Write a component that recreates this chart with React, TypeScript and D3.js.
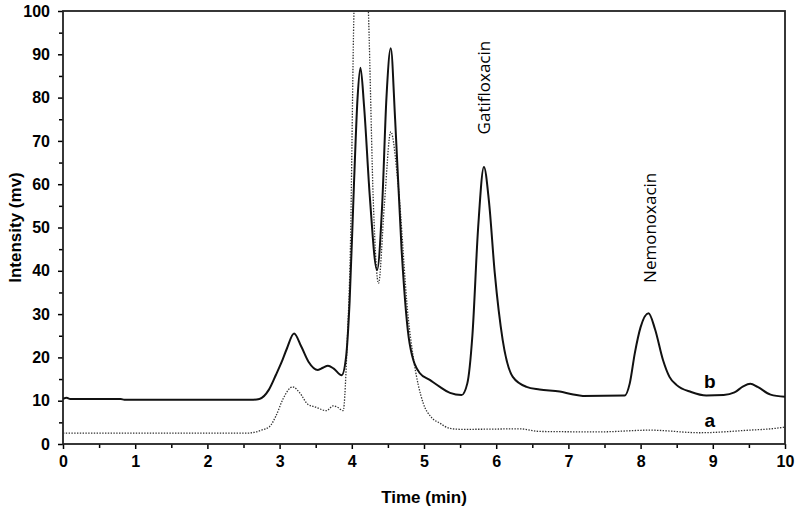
import { useEffect, useRef } from 'react'
import * as d3 from 'd3'

// chromatogram b (solid) — sample with both analytes
const timeB = [0, 0.05, 0.1, 0.8, 0.85, 2.6, 2.72, 2.85, 2.95, 3.02, 3.1, 3.2, 3.3, 3.4, 3.53, 3.6, 3.67, 3.75, 3.86, 3.92, 3.97, 4.03, 4.08, 4.12, 4.17, 4.25, 4.35, 4.42, 4.48, 4.54, 4.6, 4.69, 4.8, 4.94, 5.08, 5.22, 5.36, 5.52, 5.6, 5.67, 5.75, 5.83, 5.9, 5.98, 6.09, 6.23, 6.42, 6.6, 6.88, 7.05, 7.2, 7.78, 7.85, 7.92, 8.0, 8.11, 8.2, 8.31, 8.4, 8.5, 8.7, 8.91, 9.15, 9.3, 9.42, 9.52, 9.62, 9.8, 10]
const intensityB = [10.4, 10.7, 10.4, 10.4, 10.2, 10.2, 10.4, 12.5, 16, 18.6, 22, 25.5, 22.5, 19, 17.1, 17.6, 18.1, 17.4, 15.9, 20, 33, 60, 80, 86.9, 78, 57, 40.2, 55, 80, 91.4, 75, 44.8, 23.3, 16.4, 14.8, 13.2, 11.8, 11.3, 14, 25, 50, 64, 56, 39.5, 24, 15.5, 13.2, 12.6, 12.1, 11.5, 11.1, 11.2, 14, 21, 27, 30.2, 26.5, 19.4, 15.5, 13.6, 12, 11.2, 11.3, 11.9, 13.3, 13.9, 13.2, 11.4, 10.9]

// chromatogram a (dotted) — blank
const timeA = [0, 2.55, 2.65, 2.75, 2.86, 2.95, 3.05, 3.18, 3.28, 3.39, 3.5, 3.65, 3.74, 3.8, 3.88, 3.94, 3.98, 4.03, 4.13, 4.23, 4.3, 4.37, 4.45, 4.54, 4.64, 4.78, 4.85, 4.99, 5.1, 5.22, 5.36, 5.5, 5.67, 6.33, 6.6, 7.43, 8.13, 8.82, 9.51, 9.8, 10]
const intensityA = [2.5, 2.5, 2.7, 3.2, 4.0, 6.5, 10.5, 13.2, 11.8, 9.2, 8.5, 7.7, 8.8, 8.5, 7.7, 25, 45, 100, 135, 100, 55, 37.1, 55, 72.1, 60.2, 29.4, 20.2, 9.4, 6.2, 4.8, 3.6, 3.4, 3.4, 3.5, 2.9, 2.8, 3.2, 2.6, 3.2, 3.5, 3.9]

const xTicks = [0, 1, 2, 3, 4, 5, 6, 7, 8, 9, 10]
const yTicks = [0, 10, 20, 30, 40, 50, 60, 70, 80, 90, 100]

const peakLabels = [
  { name: 'Gatifloxacin', t: 5.83, v: 71.5 },
  { name: 'Nemonoxacin', t: 8.13, v: 37.2 },
]
// baseline positions of the trace letters
const traceLabels = [
  { name: 'b', t: 8.96, v: 12.9 },
  { name: 'a', t: 8.96, v: 3.9 },
]

export default function App() {
  const ref = useRef<SVGSVGElement>(null)

  useEffect(() => {
    const W = 799, H = 510
    const M = { top: 11, right: 14, bottom: 66, left: 63 }
    const iw = W - M.left - M.right
    const ih = H - M.top - M.bottom
    const svg = d3.select(ref.current)
    svg.selectAll('*').remove()
    svg.attr('width', W).attr('height', H)

    const x = d3.scaleLinear().domain([0, 10]).range([0, iw])
    const y = d3.scaleLinear().domain([0, 100]).range([ih, 0])
    const g = svg.append('g').attr('transform', `translate(${M.left},${M.top})`)

    svg.append('clipPath').attr('id', 'plot-clip')
      .append('rect').attr('width', iw).attr('height', ih)

    const font = "'Liberation Sans', Arial, sans-serif"

    // minor ticks first, then majors
    g.append('g').attr('transform', `translate(0,${ih})`)
      .call(d3.axisBottom(x).tickValues(d3.range(0.5, 10, 1)).tickSize(4).tickFormat(() => ''))
      .call(s => s.select('.domain').remove())
      .call(s => s.selectAll('line').attr('stroke', '#000').attr('stroke-width', 1.5))
    g.append('g').call(d3.axisLeft(y).tickValues(d3.range(5, 100, 10)).tickSize(4).tickFormat(() => ''))
      .call(s => s.select('.domain').remove())
      .call(s => s.selectAll('line').attr('stroke', '#000').attr('stroke-width', 1.5))

    g.append('g').attr('transform', `translate(0,${ih})`)
      .call(d3.axisBottom(x).tickValues(xTicks).tickSize(5).tickPadding(7).tickFormat(d3.format('d')))
      .call(s => s.select('.domain').remove())
      .call(s => s.selectAll('line').attr('stroke', '#000').attr('stroke-width', 1.5))
      .call(s => s.selectAll('text').attr('fill', '#000').attr('font-size', 16).attr('font-weight', 700).attr('font-family', font))
    g.append('g')
      .call(d3.axisLeft(y).tickValues(yTicks).tickSize(5).tickPadding(8).tickFormat(d3.format('d')))
      .call(s => s.select('.domain').remove())
      .call(s => s.selectAll('line').attr('stroke', '#000').attr('stroke-width', 1.5))
      .call(s => s.selectAll('text').attr('fill', '#000').attr('font-size', 16).attr('font-weight', 700).attr('font-family', font))

    // frame
    g.append('rect').attr('width', iw).attr('height', ih)
      .attr('fill', 'none').attr('stroke', '#222').attr('stroke-width', 1.8)

    const line = d3.line<[number, number]>()
      .x(d => x(d[0])).y(d => y(d[1]))
      .curve(d3.curveMonotoneX)

    const plot = g.append('g').attr('clip-path', 'url(#plot-clip)')
    plot.append('path')
      .datum(timeA.map((t, i) => [t, intensityA[i]] as [number, number]))
      .attr('fill', 'none').attr('stroke', '#333').attr('stroke-width', 1.3)
      .attr('stroke-dasharray', '1.4,1.4').attr('d', line)
    plot.append('path')
      .datum(timeB.map((t, i) => [t, intensityB[i]] as [number, number]))
      .attr('fill', 'none').attr('stroke', '#111').attr('stroke-width', 2).attr('d', line)

    peakLabels.forEach(p => {
      g.append('text')
        .attr('transform', `translate(${x(p.t)},${y(p.v)}) rotate(-90)`)
        .attr('dy', '0.35em')
        .attr('font-family', "'Open Sans', sans-serif").attr('font-size', 17)
        .attr('fill', '#000').text(p.name)
    })
    traceLabels.forEach(p => {
      g.append('text')
        .attr('x', x(p.t)).attr('y', y(p.v))
        .attr('text-anchor', 'middle')
        .attr('font-family', font).attr('font-weight', 700).attr('font-size', 19)
        .attr('fill', '#000').text(p.name)
    })

    svg.append('text')
      .attr('x', M.left + iw / 2).attr('y', 503)
      .attr('text-anchor', 'middle')
      .attr('font-family', font).attr('font-weight', 700).attr('font-size', 17)
      .text('Time (min)')
    svg.append('text')
      .attr('transform', `translate(15,${M.top + ih / 2}) rotate(-90)`)
      .attr('dy', '0.35em').attr('text-anchor', 'middle')
      .attr('font-family', font).attr('font-weight', 700).attr('font-size', 17)
      .text('Intensity (mv)')
  }, [])

  return (
    <div style={{ position: 'absolute', left: 0, top: 0, background: '#fff' }}>
      <svg ref={ref} style={{ display: 'block' }} />
    </div>
  )
}
